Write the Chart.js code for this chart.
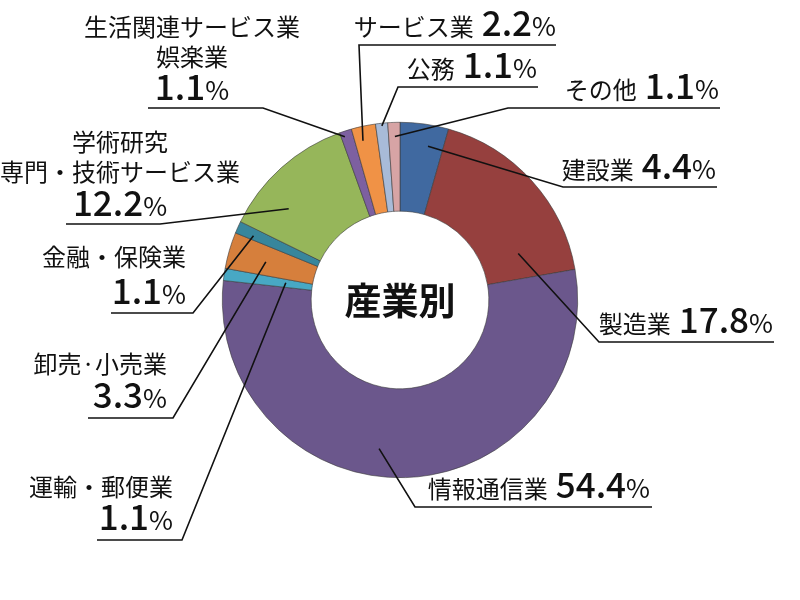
<!DOCTYPE html>
<html>
<head>
<meta charset="utf-8">
<script src="https://cdn.jsdelivr.net/npm/chart.js@4"></script>
<style>
  html, body { margin: 0; padding: 0; background: #fff; }
  #wrap { width: 800px; height: 600px; }
</style>
</head>
<body>
<div id="wrap"><canvas id="chart" width="800" height="600"></canvas></div>
<script>
// 産業別の構成比（%）、12時の位置から時計回り
const categories = ['建設業', '製造業', '情報通信業', '運輸・郵便業', '卸売・小売業', '金融・保険業',
  '学術研究 専門・技術サービス業', '生活関連サービス業 娯楽業', 'サービス業', '公務', 'その他'];
const shares = [4.4, 17.8, 54.4, 1.1, 3.3, 1.1, 12.2, 1.1, 2.2, 1.1, 1.1];
const labelLines = [['建設業'], ['製造業'], ['情報通信業'], ['運輸・郵便業'], ['卸売·小売業'], ['金融・保険業'],
  ['学術研究', '専門・技術サービス業'], ['生活関連サービス業', '娯楽業'], ['サービス業'], ['公務'], ['その他']];
const colors = ['#4069A0', '#96403E', '#6B578C', '#48A8C4', '#D67F3C', '#38869C',
  '#96B65A', '#7D60A0', '#F09246', '#A8BBD8', '#D7A4A5'];
const centerTitle = '産業別';

// label placement: t/rf = where the leader starts inside the slice, elbow = where it turns,
// endX = far end of the underline, x/base = text anchor
const labelLayout = [
  { t: .65, rf: .76, elbow: [563, 187], endX: 717, inline: true, x: 716, base: 179, align: 'right' },
  { t: .82, rf: .43, elbow: [599, 342], endX: 774, inline: true, x: 773, base: 333, align: 'right' },
  { t: .55, rf: .69, elbow: [415, 507], endX: 652, inline: true, x: 650, base: 498, align: 'right' },
  { t: .57, rf: .30, elbow: [182, 540], endX: 97, x: 173, bases: [496], vbase: 530, align: 'right' },
  { t: .47, rf: .57, elbow: [173, 418], endX: 88, x: 167, bases: [373], vbase: 408, align: 'right' },
  { t: .37, rf: .80, elbow: [193, 313], endX: 111, x: 186, bases: [266], vbase: 304, align: 'right' },
  { t: .30, rf: .62, elbow: [160, 224], endX: 66, x: 120, bases: [151, 181], vbase: 216, align: 'center' },
  { t: .30, rf: .94, elbow: [263, 108], endX: 148, x: 192, bases: [36, 66], vbase: 100, align: 'center' },
  { t: .35, rf: .84, elbow: [359, 45], endX: 556, inline: true, x: 556, base: 36, align: 'right' },
  { t: .50, rf: .97, elbow: [398, 87], endX: 538, inline: true, x: 537, base: 78, align: 'right' },
  { t: .55, rf: .84, elbow: [508, 108], endX: 720, inline: true, x: 719, base: 99, align: 'right' }
];

const FAM = '"Noto Sans CJK JP", "Noto Sans", sans-serif';
const nameFont = '24px ' + FAM;
const numFont = '500 35px ' + FAM;
const pctFont = '26px ' + FAM;

function drawRuns(ctx, runs, x, y, align) {
  let total = 0;
  runs.forEach(r => {
    ctx.font = r.font;
    r.w = r.text ? ctx.measureText(r.text).width : 0;
    total += r.w + (r.gap || 0);
  });
  let cx = align === 'center' ? x - total / 2 : (align === 'right' ? x - total : x);
  runs.forEach(r => {
    cx += r.gap || 0;
    if (r.text) {
      ctx.font = r.font;
      ctx.fillText(r.text, cx, y);
    }
    cx += r.w;
  });
}

function valueRuns(v) {
  return [{ text: v.toFixed(1), font: numFont }, { text: '%', font: pctFont, gap: 0 }];
}

const leaderLabels = {
  id: 'leaderLabels',
  afterDraw(chart) {
    const ctx = chart.ctx;
    const arcs = chart.getDatasetMeta(0).data;
    ctx.save();
    ctx.textAlign = 'left';
    ctx.textBaseline = 'alphabetic';
    ctx.fillStyle = '#111';
    ctx.strokeStyle = '#111';
    ctx.lineWidth = 1.6;
    arcs.forEach((arc, i) => {
      const L = labelLayout[i];
      const p = arc.getProps(['x', 'y', 'startAngle', 'endAngle', 'innerRadius', 'outerRadius'], true);
      const a = p.startAngle + L.t * (p.endAngle - p.startAngle);
      const r = p.innerRadius + L.rf * (p.outerRadius - p.innerRadius);
      const sx = p.x + r * Math.cos(a), sy = p.y + r * Math.sin(a);
      ctx.beginPath();
      ctx.moveTo(sx, sy);
      ctx.lineTo(L.elbow[0], L.elbow[1]);
      ctx.lineTo(L.endX, L.elbow[1]);
      ctx.stroke();

      if (L.inline) {
        const runs = valueRuns(shares[i]);
        runs[0].gap = 8;
        drawRuns(ctx, [{ text: labelLines[i][0], font: nameFont }].concat(runs), L.x, L.base, L.align);
      } else {
        labelLines[i].forEach((line, k) => drawRuns(ctx, [{ text: line, font: nameFont }], L.x, L.bases[k], L.align));
        drawRuns(ctx, valueRuns(shares[i]), L.x, L.vbase, L.align);
      }
    });
    const c = arcs[0];
    ctx.font = 'bold 37px ' + FAM;
    ctx.textAlign = 'center';
    ctx.textBaseline = 'middle';
    ctx.fillText(centerTitle, c.x, c.y + 1);
    ctx.restore();
  }
};

new Chart(document.getElementById('chart').getContext('2d'), {
  type: 'doughnut',
  data: {
    labels: categories,
    datasets: [{
      data: shares,
      backgroundColor: colors,
      borderColor: '#3a3a3a',
      borderWidth: 0.6
    }]
  },
  options: {
    responsive: false,
    animation: false,
    cutout: '50%',
    layout: { padding: { top: 122, bottom: 122, left: 0, right: 0 } },
    plugins: {
      legend: { display: false },
      tooltip: { enabled: false }
    }
  },
  plugins: [leaderLabels]
});
</script>
</body>
</html>
